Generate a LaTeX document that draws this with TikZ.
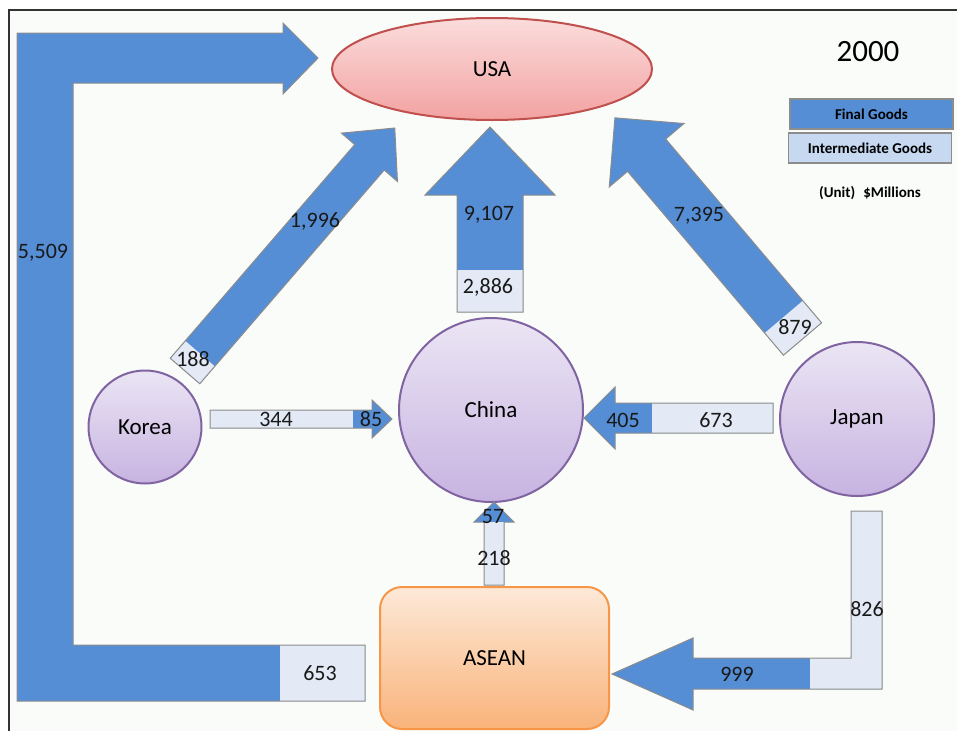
\documentclass[tikz,border=0pt]{standalone}
\usepackage{fontspec}
\setmainfont{Carlito}
\usetikzlibrary{shapes.geometric}

\definecolor{finalblue}{HTML}{558ED5}
\definecolor{interlight}{HTML}{E3E9F5}
\definecolor{legendlight}{HTML}{C6D9F1}
\definecolor{edgegrey}{HTML}{8C8C8C}
\definecolor{paper}{HTML}{FAFCFA}
\definecolor{framegrey}{HTML}{333333}
\definecolor{usatop}{HTML}{FBDCDC}
\definecolor{usabot}{HTML}{F2A2A1}
\definecolor{usaedge}{HTML}{C0504D}
\definecolor{lilactop}{HTML}{EBE5F4}
\definecolor{lilacbot}{HTML}{C7B3E1}
\definecolor{lilacedge}{HTML}{8064A2}
\definecolor{peachtop}{HTML}{FDE9D8}
\definecolor{peachbot}{HTML}{F9B37A}
\definecolor{peachedge}{HTML}{F79646}

\newcommand\numfont{\fontsize{22}{26}\selectfont}
\newcommand\placefont{\fontsize{23}{27}\selectfont}
\newcommand\legendfont{\fontsize{15}{18}\selectfont\bfseries}

\tikzset{
  country/.style={circle, draw=lilacedge, line width=2pt,
    top color=lilactop, bottom color=lilacbot, inner sep=0pt, font=\placefont},
  arrowedge/.style={draw=edgegrey, line width=1pt, line join=miter},
  qty/.style={inner sep=0pt, font=\numfont, text=black!90},
  legendbox/.style={draw=edgegrey, line width=1.5pt, minimum width=163pt,
    minimum height=30pt, inner sep=0pt, font=\legendfont},
}

% straight block arrow: #1 tail point, #2 direction (deg), #3 length,
% #4 half shaft width, #5 head length, #6 half head width,
% #7 length of the intermediate-goods part at the tail
\newcommand\flowarrow[7]{%
  \begin{scope}[shift={#1}, rotate=#2]
    \fill[finalblue] (0,-#4) -- ({#3-#5},-#4) -- ({#3-#5},-#6) -- (#3,0)
      -- ({#3-#5},#6) -- ({#3-#5},#4) -- (0,#4) -- cycle;
    \fill[interlight] (0,-#4) rectangle (#7,#4);
    \draw[arrowedge] (0,-#4) -- ({#3-#5},-#4) -- ({#3-#5},-#6) -- (#3,0)
      -- ({#3-#5},#6) -- ({#3-#5},#4) -- (0,#4) -- cycle;
  \end{scope}}

\begin{document}
\begin{tikzpicture}[x=1pt, y=-1pt]
  \useasboundingbox (0,0) rectangle (957,731);
  \fill[white] (0,0) rectangle (957,731);
  \fill[paper] (9,10) rectangle (957,731);
  \draw[framegrey, line width=1.3pt] (957,10) -- (9,10) -- (9,731);

  % places
  \node[ellipse, draw=usaedge, line width=2pt, top color=usatop, bottom color=usabot,
        minimum width=320pt, minimum height=102pt, inner sep=0pt, font=\placefont]
        (usa) at (492,69) {USA};
  \node[country, minimum size=184pt] (china) at (491,410) {China};
  \node[country, minimum size=113pt] (korea) at (145,427) {Korea};
  \node[country, minimum size=154pt] (japan) at (857,419) {Japan};
  \node[draw=peachedge, line width=2pt, rounded corners=22pt,
        top color=peachtop, bottom color=peachbot,
        minimum width=229pt, minimum height=142pt, inner sep=0pt, font=\placefont]
        (asean) at (494.5,658) {ASEAN};

  % ASEAN -> USA, routed round the left side
  \fill[finalblue] (17,33) -- (283,33) -- (283,23) -- (318,58) -- (283,94) -- (283,83)
    -- (73,83) -- (73,645) -- (365,645) -- (365,701) -- (17,701) -- cycle;
  \fill[interlight] (280,645) rectangle (365,701);
  \draw[arrowedge] (17,33) -- (283,33) -- (283,23) -- (318,58) -- (283,94) -- (283,83)
    -- (73,83) -- (73,645) -- (365,645) -- (365,701) -- (17,701) -- cycle;

  % Japan -> ASEAN, routed down and left
  \fill[finalblue] (851,511) -- (882,511) -- (882,689) -- (693,689) -- (693,710)
    -- (612,674) -- (693,638) -- (693,658) -- (851,658) -- cycle;
  \fill[interlight] (810,658) -- (851,658) -- (851,511) -- (882,511) -- (882,689)
    -- (810,689) -- cycle;
  \draw[arrowedge] (851,511) -- (882,511) -- (882,689) -- (693,689) -- (693,710)
    -- (612,674) -- (693,638) -- (693,658) -- (851,658) -- cycle;

  % straight flows
  \flowarrow{(185,371)}{49.2}{321}{19.5}{38.7}{37}{23}     % Korea -> USA
  \flowarrow{(802.5,339)}{130.3}{290}{25}{49}{49}{29}      % Japan -> USA
  \flowarrow{(490,312)}{90}{185}{33}{68}{65}{42}           % China -> USA
  \flowarrow{(210,419)}{0}{182}{9}{20}{19}{143}            % Korea -> China
  \flowarrow{(773,418)}{180}{189}{15}{31}{31}{121}         % Japan -> China
  \flowarrow{(494,585)}{90}{83}{10}{20}{20}{63}            % ASEAN -> China

  % trade values
  \node[qty] (v5509) at (43,253) {5,509};
  \node[qty] (v653)  at (320,673) {653};
  \node[qty] (v1996) at (315,221) {1,996};
  \node[qty] (v188)  at (193,359) {188};
  \node[qty] (v9107) at (489,215) {9,107};
  \node[qty] (v2886) at (488,287) {2,886};
  \node[qty] (v7395) at (699,216) {7,395};
  \node[qty] (v879)  at (795,327) {879};
  \node[qty] (v344)  at (276,419) {344};
  \node[qty] (v85)   at (371,419) {85};
  \node[qty] (v405)  at (623,420) {405};
  \node[qty] (v673)  at (716,420) {673};
  \node[qty] (v57)   at (493,517) {57};
  \node[qty] (v218)  at (494,558) {218};
  \node[qty] (v826)  at (867,609) {826};
  \node[qty] (v999)  at (737,674) {999};

  % year and legend
  \node[inner sep=0pt, font=\fontsize{31}{36}\selectfont] (year) at (868,52) {2000};
  \node[legendbox, fill=finalblue] (lgfinal) at (871.5,114) {Final Goods};
  \node[legendbox, fill=legendlight] (lginter) at (870,148) {Intermediate Goods};
  \node[inner sep=0pt, font=\legendfont] (unit) at (870,193) {(Unit)\hspace{8pt}\$Millions};
\end{tikzpicture}
\end{document}
